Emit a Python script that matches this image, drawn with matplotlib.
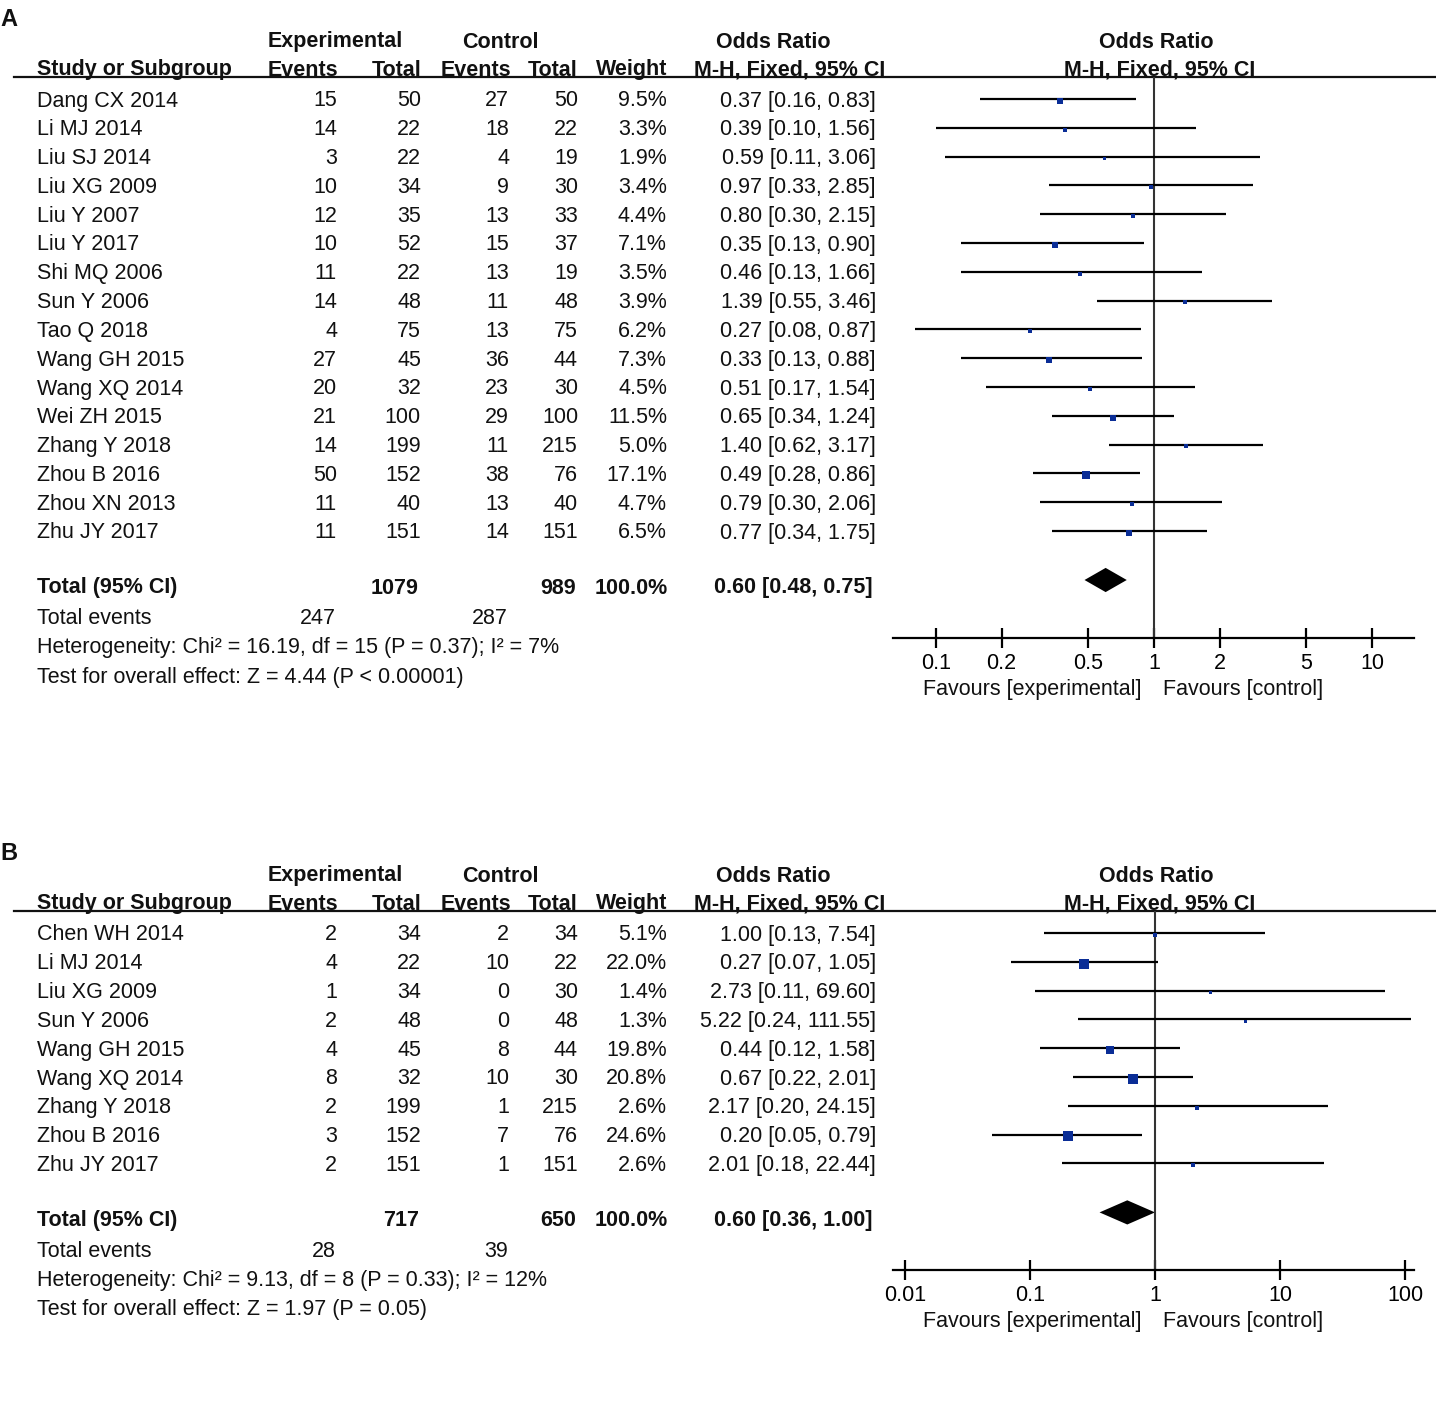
import numpy as np
import matplotlib
matplotlib.use("Agg")
import matplotlib.pyplot as plt

plt.rcParams['font.family'] = ['Liberation Sans', 'DejaVu Sans']

# ---- panel A data ----
studies_a = ["Dang CX 2014", "Li MJ 2014", "Liu SJ 2014", "Liu XG 2009", "Liu Y 2007",
             "Liu Y 2017", "Shi MQ 2006", "Sun Y 2006", "Tao Q 2018", "Wang GH 2015",
             "Wang XQ 2014", "Wei ZH 2015", "Zhang Y 2018", "Zhou B 2016", "Zhou XN 2013",
             "Zhu JY 2017"]
exp_ev_a = [15, 14, 3, 10, 12, 10, 11, 14, 4, 27, 20, 21, 14, 50, 11, 11]
exp_tot_a = [50, 22, 22, 34, 35, 52, 22, 48, 75, 45, 32, 100, 199, 152, 40, 151]
ctl_ev_a = [27, 18, 4, 9, 13, 15, 13, 11, 13, 36, 23, 29, 11, 38, 13, 14]
ctl_tot_a = [50, 22, 19, 30, 33, 37, 19, 48, 75, 44, 30, 100, 215, 76, 40, 151]
weight_a = [9.5, 3.3, 1.9, 3.4, 4.4, 7.1, 3.5, 3.9, 6.2, 7.3, 4.5, 11.5, 5.0, 17.1, 4.7, 6.5]
or_a = [0.37, 0.39, 0.59, 0.97, 0.80, 0.35, 0.46, 1.39, 0.27, 0.33, 0.51, 0.65, 1.40, 0.49, 0.79, 0.77]
lo_a = [0.16, 0.10, 0.11, 0.33, 0.30, 0.13, 0.13, 0.55, 0.08, 0.13, 0.17, 0.34, 0.62, 0.28, 0.30, 0.34]
hi_a = [0.83, 1.56, 3.06, 2.85, 2.15, 0.90, 1.66, 3.46, 0.87, 0.88, 1.54, 1.24, 3.17, 0.86, 2.06, 1.75]
total_a = dict(exp_tot=1079, ctl_tot=989, exp_ev=247, ctl_ev=287, est=0.60, lo=0.48, hi=0.75,
               het="Heterogeneity: Chi² = 16.19, df = 15 (P = 0.37); I² = 7%",
               test="Test for overall effect: Z = 4.44 (P < 0.00001)")
ticks_a = [0.1, 0.2, 0.5, 1, 2, 5, 10]
ticklabels_a = ["0.1", "0.2", "0.5", "1", "2", "5", "10"]

# ---- panel B data ----
studies_b = ["Chen WH 2014", "Li MJ 2014", "Liu XG 2009", "Sun Y 2006", "Wang GH 2015",
             "Wang XQ 2014", "Zhang Y 2018", "Zhou B 2016", "Zhu JY 2017"]
exp_ev_b = [2, 4, 1, 2, 4, 8, 2, 3, 2]
exp_tot_b = [34, 22, 34, 48, 45, 32, 199, 152, 151]
ctl_ev_b = [2, 10, 0, 0, 8, 10, 1, 7, 1]
ctl_tot_b = [34, 22, 30, 48, 44, 30, 215, 76, 151]
weight_b = [5.1, 22.0, 1.4, 1.3, 19.8, 20.8, 2.6, 24.6, 2.6]
or_b = [1.00, 0.27, 2.73, 5.22, 0.44, 0.67, 2.17, 0.20, 2.01]
lo_b = [0.13, 0.07, 0.11, 0.24, 0.12, 0.22, 0.20, 0.05, 0.18]
hi_b = [7.54, 1.05, 69.60, 111.55, 1.58, 2.01, 24.15, 0.79, 22.44]
total_b = dict(exp_tot=717, ctl_tot=650, exp_ev=28, ctl_ev=39, est=0.60, lo=0.36, hi=1.00,
               het="Heterogeneity: Chi² = 9.13, df = 8 (P = 0.33); I² = 12%",
               test="Test for overall effect: Z = 1.97 (P = 0.05)")
ticks_b = [0.01, 0.1, 1, 10, 100]
ticklabels_b = ["0.01", "0.1", "1", "10", "100"]

W, H = 1436, 1408
FS = 15.5
BLUE = '#0a2d96'

fig = plt.figure(figsize=(W / 100, H / 100), dpi=100)
fig.patch.set_facecolor('white')
ov = fig.add_axes([0, 0, 1, 1])
ov.set_xlim(0, W)
ov.set_ylim(H, 0)
ov.axis('off')


def txt(x, y, s, ha='left', bold=False, size=FS):
    ov.text(x, y + 2, s, ha=ha, va='center', fontsize=size,
            fontweight='bold' if bold else 'normal', color='#111111')


def panel(letter, top, studies, e_ev, e_tot, c_ev, c_tot, wts, est, lo, hi, tot,
          ticks, ticklabels, x_ref, px_per_dec):
    # letter and headers
    txt(0, top - 59, letter, bold=True, size=17)
    y1, y2 = top - 37, top - 9
    txt(335, y1, "Experimental", ha='center', bold=True)
    txt(500, y1, "Control", ha='center', bold=True)
    txt(773, y1, "Odds Ratio", ha='center', bold=True)
    txt(1156, y1, "Odds Ratio", ha='center', bold=True)
    txt(37, y2, "Study or Subgroup", bold=True)
    txt(338, y2, "Events", ha='right', bold=True)
    txt(421, y2, "Total", ha='right', bold=True)
    txt(511, y2, "Events", ha='right', bold=True)
    txt(578, y2, "Total", ha='right', bold=True)
    txt(667, y2, "Weight", ha='right', bold=True)
    txt(790, y2, "M-H, Fixed, 95% CI", ha='center', bold=True)
    txt(1160, y2, "M-H, Fixed, 95% CI", ha='center', bold=True)
    ov.plot([14, W], [top, top], color='#111111', lw=1.6)

    y0, dy = top + 22, 28.8
    n = len(studies)
    for i in range(n):
        y = y0 + i * dy
        txt(37, y, studies[i])
        txt(337, y, str(e_ev[i]), ha='right')
        txt(421, y, str(e_tot[i]), ha='right')
        txt(509, y, str(c_ev[i]), ha='right')
        txt(578, y, str(c_tot[i]), ha='right')
        txt(667, y, f"{wts[i]:.1f}%", ha='right')
        txt(876, y, f"{est[i]:.2f} [{lo[i]:.2f}, {hi[i]:.2f}]", ha='right')
    yt = y0 + (n - 1) * dy + 55
    txt(37, yt, "Total (95% CI)", bold=True)
    txt(419, yt, str(tot['exp_tot']), ha='right', bold=True)
    txt(576, yt, str(tot['ctl_tot']), ha='right', bold=True)
    txt(668, yt, "100.0%", ha='right', bold=True)
    txt(873, yt, f"{tot['est']:.2f} [{tot['lo']:.2f}, {tot['hi']:.2f}]", ha='right', bold=True)
    txt(37, yt + 31, "Total events")
    txt(336, yt + 31, str(tot['exp_ev']), ha='right')
    txt(508, yt + 31, str(tot['ctl_ev']), ha='right')
    txt(37, yt + 60, tot['het'])
    txt(37, yt + 89, tot['test'])

    # forest axes
    axis_y = yt + 52
    left_px, right_px = 893, 1414
    ax = fig.add_axes([left_px / W, 1 - axis_y / H, (right_px - left_px) / W, (axis_y - top) / H])
    ax.set_xscale('log')
    ax.set_xlim(10 ** ((left_px - x_ref) / px_per_dec), 10 ** ((right_px - x_ref) / px_per_dec))
    ax.set_ylim((axis_y - y0) / dy, (top - y0) / dy)
    ax.patch.set_alpha(0)
    for s in ['top', 'left', 'right']:
        ax.spines[s].set_visible(False)
    ax.spines['bottom'].set_linewidth(1.6)
    ax.set_yticks([])
    ax.set_xticks(ticks)
    ax.set_xticklabels(ticklabels, fontsize=FS)
    ax.minorticks_off()
    ax.tick_params(axis='x', direction='inout', length=15, width=1.6, pad=3)
    ax.axvline(1, color='#333333', lw=1.5)
    for i in range(n):
        ax.plot([lo[i], hi[i]], [i, i], color='black', lw=1.6, solid_capstyle='butt')
        side = max(2 * np.sqrt(wts[i]), 3.0)
        ax.plot(est[i], i + 0.06, marker='s', ms=side * 0.72, color=BLUE, mec=BLUE, mew=0)
    yd = (yt - 6 - y0) / dy
    h = 0.42
    ax.fill([tot['lo'], tot['est'], tot['hi'], tot['est']], [yd, yd - h, yd, yd + h],
            color='black', lw=0)
    txt(1032, axis_y + 49, "Favours [experimental]", ha='center')
    txt(1243, axis_y + 49, "Favours [control]", ha='center')


panel("A", 77, studies_a, exp_ev_a, exp_tot_a, ctl_ev_a, ctl_tot_a, weight_a,
      or_a, lo_a, hi_a, total_a, ticks_a, ticklabels_a, 1154, 218)
panel("B", 911, studies_b, exp_ev_b, exp_tot_b, ctl_ev_b, ctl_tot_b, weight_b,
      or_b, lo_b, hi_b, total_b, ticks_b, ticklabels_b, 1155, 125)

fig.savefig("out.png", dpi=100, facecolor='white')
